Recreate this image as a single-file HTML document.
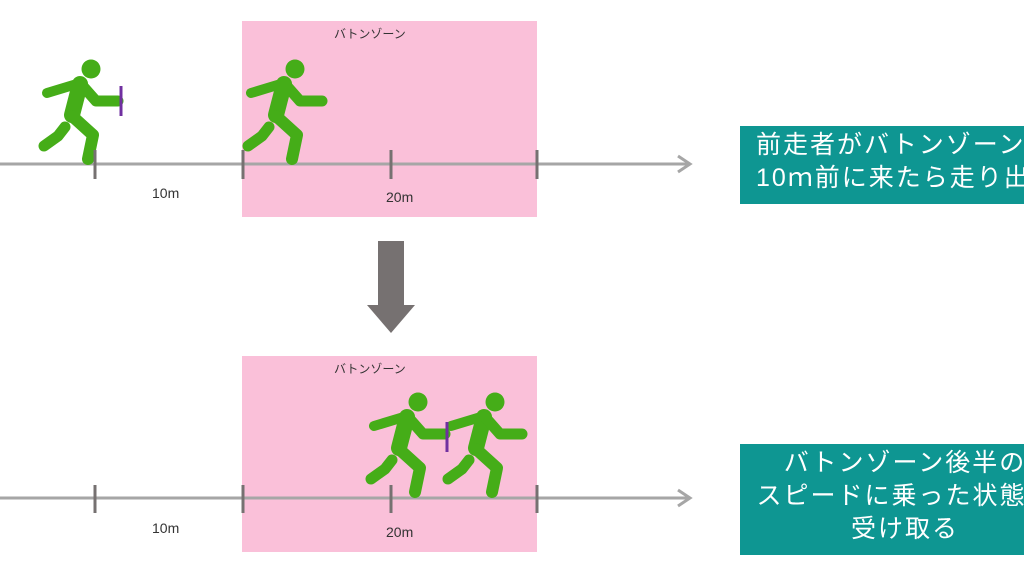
<!DOCTYPE html>
<html><head><meta charset="utf-8"><style>
body{margin:0;width:1024px;height:569px;overflow:hidden;background:#fff;font-family:"Liberation Sans","Noto Sans CJK JP",sans-serif;}
.t{position:absolute;white-space:nowrap}
</style></head><body>
<svg width="1024" height="569" style="position:absolute;left:0;top:0">
<defs>
<g id="r" stroke="#45ad18" stroke-linecap="round" stroke-linejoin="round" fill="none">
<circle cx="91" cy="69" r="9.5" fill="#45ad18" stroke="none"/>
<path d="M47,93 L80,83" stroke-width="10"/>
<path d="M80,84 L72,115" stroke-width="16"/>
<path d="M81,84 L96,101 L118,101" stroke-width="11"/>
<path d="M65,127 L58,136 L44,146" stroke-width="11"/>
<path d="M72,116 L93,135 L88,159" stroke-width="12"/>
</g>
</defs>
<rect x="242" y="21" width="295" height="196" fill="#fac0d9"/>
<rect x="242" y="356" width="295" height="196" fill="#fac0d9"/>
<g stroke="#a6a6a6" stroke-width="3" fill="none">
<line x1="0" y1="164" x2="688" y2="164"/><path d="M678,156 L690,164 L678,172"/>
<line x1="0" y1="498" x2="688" y2="498"/><path d="M678,490 L690,498 L678,506"/>
</g>
<use href="#r"/>
<use href="#r" transform="translate(204,0)"/>
<use href="#r" transform="translate(327,333)"/>
<use href="#r" transform="translate(404,333)"/>
<g stroke="#767171" stroke-width="3">
<line x1="95" y1="150" x2="95" y2="179"/><line x1="243" y1="150" x2="243" y2="179"/><line x1="391" y1="150" x2="391" y2="179"/><line x1="537" y1="150" x2="537" y2="179"/>
<line x1="95" y1="485" x2="95" y2="513"/><line x1="243" y1="485" x2="243" y2="513"/><line x1="391" y1="485" x2="391" y2="513"/><line x1="537" y1="485" x2="537" y2="513"/>
</g>
<line x1="121" y1="86" x2="121" y2="116" stroke="#7030a0" stroke-width="3"/>
<line x1="447" y1="422" x2="447" y2="452" stroke="#7030a0" stroke-width="3"/>
<rect x="378" y="241" width="26" height="64" fill="#767171"/>
<path d="M367,305 L415,305 L391,333 Z" fill="#767171"/>
<rect x="740" y="126" width="290" height="78" fill="#0e9692"/>
<rect x="740" y="444" width="290" height="111" fill="#0e9692"/>
</svg>
<div class="t" style="left:334px;top:25px;font-size:12px;color:#333">バトンゾーン</div>
<div class="t" style="left:334px;top:360px;font-size:12px;color:#333">バトンゾーン</div>
<div class="t" style="left:152px;top:185px;font-size:14px;color:#333">10m</div>
<div class="t" style="left:386px;top:189px;font-size:14px;color:#333">20m</div>
<div class="t" style="left:152px;top:520px;font-size:14px;color:#333">10m</div>
<div class="t" style="left:386px;top:524px;font-size:14px;color:#333">20m</div>
<div class="t" style="left:756px;top:129px;font-size:25px;letter-spacing:2px;line-height:33px;color:#fff">前走者がバトンゾーン<br>10ｍ前に来たら走り出す</div>
<div class="t" style="left:740px;top:447px;width:330px;text-align:center;font-size:25px;letter-spacing:2px;line-height:33px;color:#fff">バトンゾーン後半の<br>スピードに乗った状態で<br>受け取る</div>
</body></html>
